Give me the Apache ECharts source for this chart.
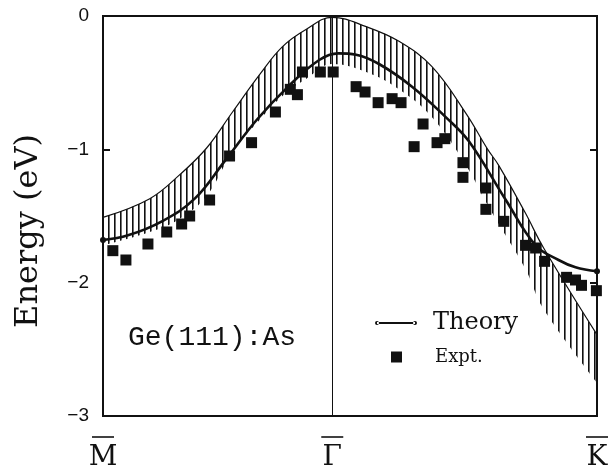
<!DOCTYPE html>
<html>
<head>
<meta charset="utf-8">
<script src="https://cdn.jsdelivr.net/npm/echarts@6/dist/echarts.min.js"></script>
<style>
  html, body { margin: 0; padding: 0; background: #fff; }
  #chart { width: 611px; height: 472px; }
</style>
</head>
<body>
<div id="chart"></div>
<script>
// k along M -> Gamma -> K, in units of |Gamma M| (|Gamma K| = 2/sqrt(3))
const xTickValues = [0, 1, 2.1547]
const xTickLabels = ['M', 'Γ', 'K']
const yTickValues = [0, -1, -2, -3]

// theory band (thick line)
const theoryK = [0, 0.109, 0.257, 0.400, 0.530, 0.670, 0.813, 0.943, 1.026, 1.104, 1.204, 1.348, 1.496, 1.596, 1.757, 1.887, 1.987, 2.061, 2.1547]
const theoryE = [-1.68, -1.645, -1.54, -1.37, -1.09, -0.78, -0.52, -0.33, -0.28, -0.29, -0.36, -0.53, -0.76, -0.94, -1.38, -1.72, -1.83, -1.885, -1.915]

// hatched region: upper edge (thin line) and lower edge of the hatching
const bandK = [0, 0.204, 0.335, 0.452, 0.565, 0.683, 0.783, 0.887, 1.0, 1.148, 1.291, 1.435, 1.583, 1.678, 1.726, 1.843, 1.922, 2.1547]
const bandTop = [-1.51, -1.37, -1.19, -0.99, -0.72, -0.44, -0.23, -0.10, -0.01, -0.08, -0.19, -0.38, -0.73, -1.00, -1.12, -1.48, -1.74, -2.39]
const bandBottom = [-1.72, -1.62, -1.52, -1.35, -1.02, -0.78, -0.60, -0.47, -0.36, -0.42, -0.55, -0.76, -1.12, -1.42, -1.56, -1.90, -2.20, -2.75]

// experiment (squares)
const exptK = [0.043, 0.100, 0.196, 0.278, 0.343, 0.378, 0.465, 0.552, 0.648, 0.752, 0.817, 0.848, 0.870, 0.948, 1.004,
  1.104, 1.143, 1.200, 1.261, 1.300, 1.396, 1.357, 1.457, 1.491, 1.570, 1.570, 1.670, 1.670, 1.748, 1.843, 1.887, 1.926, 2.022, 2.061, 2.087, 2.152]
const exptE = [-1.76, -1.83, -1.71, -1.62, -1.56, -1.50, -1.38, -1.05, -0.95, -0.72, -0.55, -0.59, -0.42, -0.42, -0.42,
  -0.53, -0.57, -0.65, -0.62, -0.65, -0.81, -0.98, -0.95, -0.92, -1.10, -1.21, -1.29, -1.45, -1.54, -1.72, -1.74, -1.84, -1.96, -1.98, -2.02, -2.06]

const ink = '#111'

// vertical hatch pattern
const hatch = document.createElement('canvas')
hatch.width = 6
hatch.height = 4
const hctx = hatch.getContext('2d')
hctx.fillStyle = ink
hctx.fillRect(0, 0, 1.6, 4)

const chart = echarts.init(document.getElementById('chart'), null, { renderer: 'canvas' })

const theoryData = theoryK.map((k, i) => {
  if (i === 0 || i === theoryK.length - 1) {
    return { value: [k, theoryE[i]], symbol: 'circle', symbolSize: 6 }
  }
  return [k, theoryE[i]]
})

const option = {
  animation: false,
  backgroundColor: '#fff',
  grid: { left: 103, right: 12, top: 16, bottom: 52, show: true, borderColor: ink, borderWidth: 2, z: 8 },
  xAxis: {
    type: 'value', min: 0, max: 2.1547,
    axisLine: { show: false },
    splitLine: { show: false },
    axisTick: { show: false },
    axisLabel: {
      customValues: xTickValues,
      margin: 20,
      formatter: (v) => {
        let idx = 0
        xTickValues.forEach((t, i) => { if (Math.abs(t - v) < Math.abs(xTickValues[idx] - v)) idx = i })
        return '{bar| }\n{sym|' + xTickLabels[idx] + '}'
      },
      rich: {
        bar: { width: 22, height: 1.6, backgroundColor: ink, fontSize: 1, lineHeight: 2 },
        sym: { fontFamily: 'DejaVu Serif', fontSize: 28, color: ink, padding: [6, 0, 0, 0] }
      }
    }
  },
  yAxis: [
    {
      type: 'value', min: -3, max: 0, interval: 1,
      axisLine: { show: false },
      splitLine: { show: false },
      axisTick: { show: true, inside: true, length: 7, lineStyle: { color: ink, width: 2 } },
      axisLabel: {
        margin: 14, color: ink, fontFamily: 'Liberation Sans', fontSize: 19,
        formatter: (v) => String(v).replace('-', '−')
      }
    },
    {
      type: 'value', min: -3, max: 0, interval: 1, position: 'right',
      axisLine: { show: false },
      splitLine: { show: false },
      axisTick: { show: true, inside: true, length: 7, lineStyle: { color: ink, width: 2 } },
      axisLabel: { show: false }
    }
  ],
  legend: [
    {
      data: [{ name: 'Theory', icon: 'path://M0,3a2,2 0 1,0 4,0a2,2 0 1,0 -4,0z M38,3a2,2 0 1,0 4,0a2,2 0 1,0 -4,0z M2,2h38v2h-38z' }],
      left: 370, top: 306, itemWidth: 42, itemHeight: 6, z: 20,
      formatter: '{t|{name}}',
      textStyle: { rich: { t: { fontFamily: 'DejaVu Serif', fontSize: 24, color: ink, padding: [0, 0, 0, 11] } } }
    },
    {
      data: [{ name: 'Expt.', icon: 'rect' }],
      left: 386, top: 343, itemWidth: 11, itemHeight: 11, z: 20,
      formatter: '{t|{name}}',
      textStyle: { rich: { t: { fontFamily: 'DejaVu Serif', fontSize: 18, color: ink, padding: [0, 0, 0, 28] } } }
    }
  ],
  graphic: [
    {
      type: 'text', x: 29, y: 231, rotation: Math.PI / 2, z: 100,
      style: { text: 'Energy (eV)', fontFamily: 'DejaVu Serif', fontSize: 32, fill: ink, textAlign: 'center', textVerticalAlign: 'middle' }
    },
    {
      type: 'text', left: 128, top: 324, z: 100,
      style: { text: 'Ge(111):As', fontFamily: 'Liberation Mono', fontSize: 28, fill: ink }
    }
  ],
  series: [
    {
      // hatching from the thin upper line down to the bottom of the frame
      name: 'bandTop', type: 'line',
      data: bandK.map((k, i) => [k, bandTop[i]]),
      smooth: 0.4, symbol: 'none',
      lineStyle: { color: ink, width: 1.2 },
      areaStyle: { color: { image: hatch, repeat: 'repeat' }, opacity: 1, origin: 'start' },
      z: 1, silent: true
    },
    {
      // white fill below the lower edge of the hatching
      name: 'bandBottom', type: 'line',
      data: bandK.map((k, i) => [k, bandBottom[i]]),
      smooth: 0.4, symbol: 'none',
      lineStyle: { width: 0, opacity: 0 },
      areaStyle: { color: '#fff', opacity: 1, origin: 'start' },
      z: 2, silent: true
    },
    {
      name: 'Theory', type: 'line',
      data: theoryData,
      smooth: 0.4, symbol: 'circle', symbolSize: 0, showAllSymbol: true,
      itemStyle: { color: ink },
      lineStyle: { color: ink, width: 2.6 },
      z: 3,
      markLine: {
        silent: true, symbol: ['none', 'none'], label: { show: false },
        lineStyle: { color: ink, width: 1, type: 'solid' },
        data: [{ xAxis: xTickValues[1] }]
      }
    },
    {
      name: 'Expt.', type: 'scatter',
      data: exptK.map((k, i) => [k, exptE[i]]),
      symbol: 'rect', symbolSize: 11,
      itemStyle: { color: ink, opacity: 1 },
      z: 4
    }
  ]
}

chart.setOption(option)
</script>
</body>
</html>
